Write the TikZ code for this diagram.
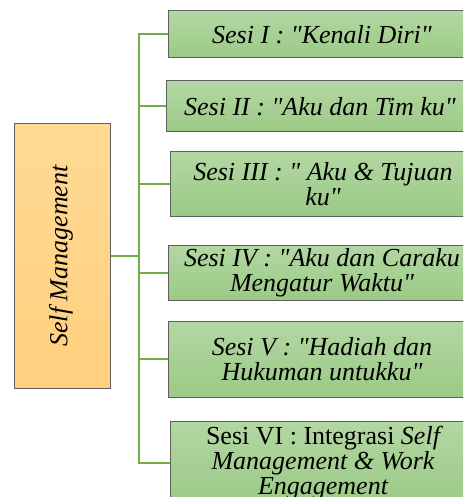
\documentclass[tikz,border=0pt]{standalone}
\usepackage{fontspec}
\setmainfont{Liberation Serif}[Ligatures=TeXOff]
\definecolor{gtop}{HTML}{B3D7A3}
\definecolor{gbot}{HTML}{9BCA85}
\definecolor{otop}{HTML}{FFDA94}
\definecolor{obot}{HTML}{FFD07E}
\definecolor{edge}{HTML}{5F5F5F}
\definecolor{link}{HTML}{70AD47}
\tikzset{
  sesibox/.style={draw=edge, line width=1pt, top color=gtop, bottom color=gbot,
    rectangle, inner sep=0pt, align=center,
    font=\fontsize{26}{25}\selectfont\itshape},
  rootbox/.style={draw=edge, line width=1pt, top color=otop, bottom color=obot,
    rectangle, inner sep=0pt},
  conn/.style={draw=link, line width=2pt}
}
\begin{document}
\begin{tikzpicture}[x=1pt,y=-1pt]
\useasboundingbox (0,0) rectangle (463,497);
\begin{scope}
\clip (0,0) rectangle (463,497);
\node[rootbox, minimum width=96pt, minimum height=264pt] (root) at (62,256) {};
\node[rotate=90, font=\fontsize{26}{25}\selectfont\itshape] (roottext) at (61,256) {Self Management};
\node[sesibox, minimum width=308pt, minimum height=47pt] (s1) at (322,34.5) {Sesi I : "Kenali Diri"};
\node[sesibox, minimum width=308pt, minimum height=51pt] (s2) at (320,106.5) {Sesi II : "Aku dan Tim ku"};
\node[sesibox, minimum width=306pt, minimum height=64pt] (s3) at (323,184) {Sesi III : " Aku \& Tujuan\\ku"};
\node[sesibox, minimum width=308pt, minimum height=55pt] (s4) at (322,272.5) {Sesi IV : "Aku dan Caraku\\Mengatur Waktu"};
\node[sesibox, minimum width=308pt, minimum height=76pt] (s5) at (322,359) {Sesi V : "Hadiah dan\\Hukuman untukku"};
\node[sesibox, minimum width=306pt, minimum height=84pt] (s6) at (323,463) {\upshape Sesi VI : Integrasi \itshape Self\\Management \& Work\\Engagement};
\coordinate (bend) at (139,256);
\foreach \s in {s1,s2,s3,s4,s5,s6}{
  \draw[conn] (root.east) -- (bend) -- (bend |- \s.west) -- (\s.west);
}
\end{scope}
\end{tikzpicture}
\end{document}
